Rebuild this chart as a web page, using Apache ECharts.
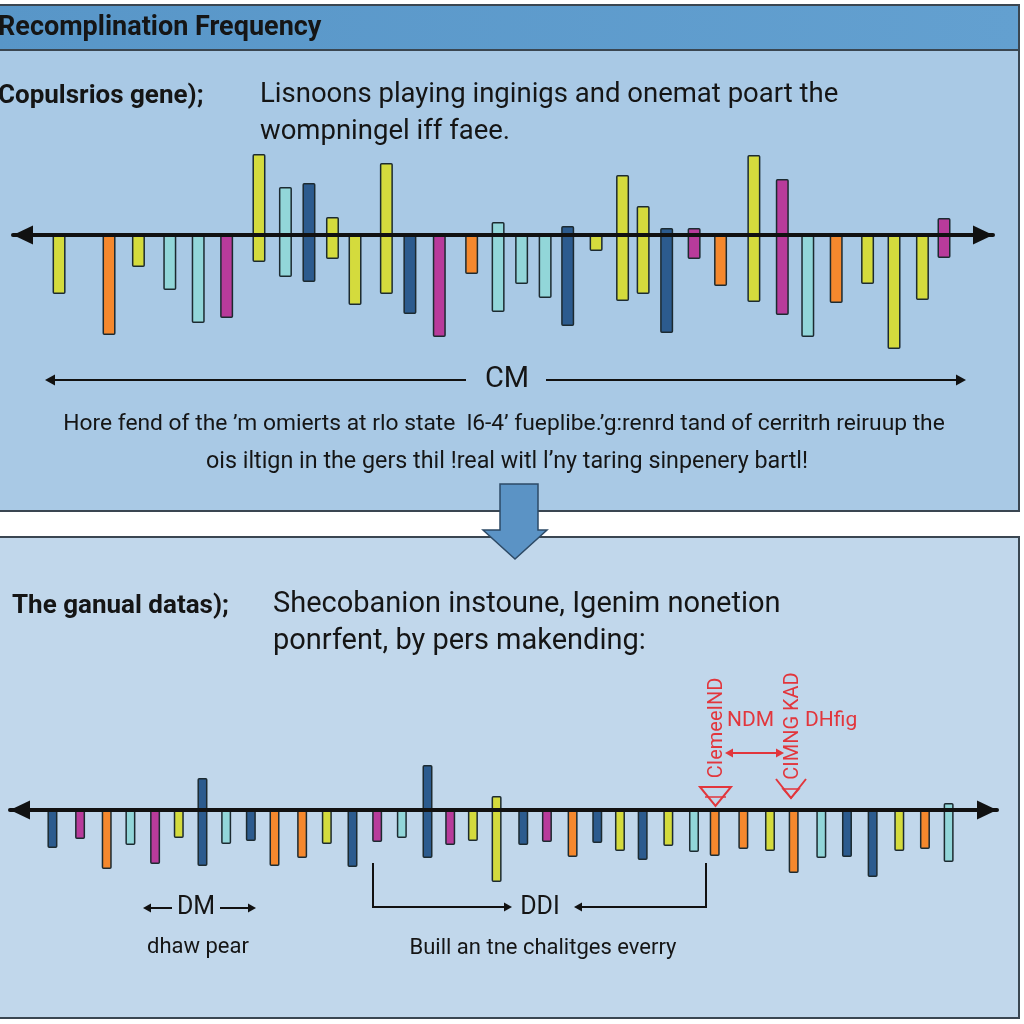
<!DOCTYPE html>
<html><head><meta charset="utf-8">
<script src="https://cdn.jsdelivr.net/npm/echarts@6/dist/echarts.min.js"></script>
<style>html,body{margin:0;padding:0;background:#fff}#c{width:1024px;height:1024px}</style>
</head><body><div id="c"></div>
<script>
// ---- Upper map: marker positions (cM), extent above / below the axis, class ----
const topPos   = [4.7, 9.8, 12.8, 16.0, 18.9, 21.8, 25.1, 27.8, 30.2, 32.6, 34.9, 38.1, 40.5, 43.5, 46.8, 49.5, 51.9, 54.3, 56.6, 59.5, 62.2, 64.3, 66.7, 69.5, 72.2, 75.6, 78.5, 81.1, 84.0, 87.2, 89.9, 92.8, 95.0];
const topHigh  = [0, 0, 0, 0, 0, 0, 81, 48, 52, 18, 0, 72, 0, 0, 0, 13, 0, 0, 9, 0, 60, 29, 7, 7, 0, 80, 56, 0, 0, 0, 0, 0, 17];
const topLow   = [-59, -100, -32, -55, -88, -83, -27, -42, -47, -24, -70, -59, -79, -102, -39, -77, -49, -63, -91, -16, -66, -59, -98, -24, -51, -67, -80, -102, -68, -49, -114, -65, -23];
const topClass = ['Y','O','Y','C','C','M','Y','C','B','Y','Y','Y','B','M','O','C','C','C','B','Y','Y','Y','B','M','O','Y','M','C','O','Y','Y','Y','M'];

// ---- Lower map ----
const botPos   = [4.3, 7.1, 9.8, 12.2, 14.7, 17.1, 19.5, 21.9, 24.4, 26.8, 29.6, 32.1, 34.7, 37.2, 39.7, 42.3, 44.6, 46.9, 49.3, 52.0, 54.4, 57.0, 59.5, 61.8, 64.1, 66.7, 69.3, 71.4, 74.3, 77.0, 79.4, 82.2, 84.8, 87.4, 90.1, 92.7, 95.1];
const botHigh  = [0, 0, 0, 0, 0, 0, 32, 0, 0, 0, 0, 0, 0, 0, 0, 45, 0, 0, 14, 0, 0, 0, 0, 0, 0, 0, 0, 0, 0, 0, 0, 0, 0, 0, 0, 0, 7];
const botLow   = [-38, -29, -59, -35, -54, -28, -56, -34, -31, -56, -48, -34, -57, -32, -28, -48, -35, -31, -72, -35, -32, -47, -33, -41, -50, -36, -42, -46, -39, -41, -63, -48, -47, -67, -41, -39, -52];
const botClass = ['B','M','O','C','M','Y','B','C','B','O','O','Y','B','M','C','B','M','Y','Y','B','M','O','B','Y','B','Y','C','O','O','Y','O','C','B','B','Y','O','C'];

const palette = {Y:'#d4db3d', O:'#f5882d', C:'#92d6d9', M:'#b83b9b', B:'#2c5b8e'};

function items(pos, vals, cls) {
  const out = [];
  pos.forEach((p, i) => {
    if (vals[i] !== 0) out.push({value: [p, vals[i]], itemStyle: {color: palette[cls[i]]}});
  });
  return out;
}

const chart = echarts.init(document.getElementById('c'), null, {renderer: 'canvas'});
const barBorder = {borderColor: '#1c2a30', borderWidth: 1.5, borderRadius: 1};
const axisLine = {onZero: true, lineStyle: {color: '#111', width: 4}, symbol: ['triangle', 'triangle'], symbolSize: [19, 20], symbolOffset: [10, -10]};

const F = 'Roboto, "Noto Sans", sans-serif';
const red = '#e2363c';
function txt(text, x, y, font, fill, align, extra) {
  return Object.assign({type: 'text', x: x, y: y, z: 5,
    style: {text: text, font: font, fill: fill || '#151515', align: align || 'left', verticalAlign: 'middle'}}, extra || {});
}
function head(x, y, dir, s, color) {
  // small filled arrowhead; dir: 1 = right, -1 = left
  return {type: 'polygon', z: 5, shape: {points: [[x, y], [x - dir * s, y - s * 0.55], [x - dir * s, y + s * 0.55]]}, style: {fill: color || '#111'}};
}

const graphics = [
  // upper panel
  {type: 'rect', z: 0, shape: {x: -5, y: 5, width: 1024, height: 506}, style: {fill: '#a9c9e5', stroke: '#3a4651', lineWidth: 2}},
  {type: 'rect', z: 0, shape: {x: -5, y: 5, width: 1024, height: 45}, style: {fill: new echarts.graphic.LinearGradient(0, 0, 1, 0, [{offset: 0, color: '#5896c8'}, {offset: 1, color: '#63a0d0'}]), stroke: '#3a4651', lineWidth: 2}},
  // lower panel
  {type: 'rect', z: 0, shape: {x: -5, y: 537, width: 1024, height: 481}, style: {fill: '#c1d7eb', stroke: '#3a4651', lineWidth: 2}},
  // connecting arrow
  {type: 'polygon', z: 4, shape: {points: [[500, 484], [538, 484], [538, 530], [547, 530], [515, 559], [483, 530], [500, 530]]}, style: {fill: '#5b93c5', stroke: '#2d4a66', lineWidth: 1.5}},

  txt('Recomplination Frequency', -2, 28, 'bold 27px ' + F),
  txt('Copulsrios gene);', -2, 96, 'bold 26px ' + F),
  txt('Lisnoons playing inginigs and onemat poart the', 260, 95, '27.5px ' + F),
  txt('wompningel iff faee.', 260, 132, '27.5px ' + F),

  // CM scale line
  {type: 'line', z: 5, shape: {x1: 52, y1: 380, x2: 466, y2: 380}, style: {stroke: '#111', lineWidth: 2}},
  {type: 'line', z: 5, shape: {x1: 546, y1: 380, x2: 958, y2: 380}, style: {stroke: '#111', lineWidth: 2}},
  head(45, 380, -1, 10), head(966, 380, 1, 10),
  txt('CM', 507, 380, '29px ' + F, '#151515', 'center'),
  txt('Hore fend of the \u2019m omierts at rlo state  l6-4\u2019 fueplibe.\u2019g:renrd tand of cerritrh reiruup the', 504, 424, '22.8px ' + F, '#151515', 'center'),
  txt('ois iltign in the gers thil !real witl l\u2019ny taring sinpenery bartl!', 507, 462, '23.3px ' + F, '#151515', 'center'),

  txt('The ganual datas);', 12, 606, 'bold 26px ' + F),
  txt('Shecobanion instoune, Igenim nonetion', 273, 605, '29px ' + F),
  txt('ponrfent, by pers makending:', 273, 642, '29px ' + F),

  // red annotations
  txt('NDM', 727, 721, '21px ' + F, red),
  txt('DHfig', 805, 721, '21px ' + F, red),
  {type: 'line', z: 5, shape: {x1: 731, y1: 753, x2: 778, y2: 753}, style: {stroke: red, lineWidth: 2}},
  head(725, 753, -1, 8, red), head(784, 753, 1, 8, red),
  txt('CIemeeIND', 717, 728, '20px ' + F, red, 'center', {rotation: Math.PI / 2}),
  txt('CIMNG KAD', 793, 726, '20px ' + F, red, 'center', {rotation: Math.PI / 2}),
  {type: 'polygon', z: 5, shape: {points: [[700, 787], [731, 787], [715.5, 806]]}, style: {fill: 'none', stroke: red, lineWidth: 2}},
  {type: 'polyline', z: 5, shape: {points: [[705, 797], [726, 797]]}, style: {stroke: red, lineWidth: 1.5}},
  {type: 'polyline', z: 5, shape: {points: [[776, 779], [791, 798], [806, 779]]}, style: {fill: 'none', stroke: red, lineWidth: 2}},
  {type: 'polygon', z: 5, shape: {points: [[783, 789], [791, 798], [799, 789]]}, style: {fill: 'none', stroke: red, lineWidth: 1.5}},

  // lower annotations
  {type: 'line', z: 5, shape: {x1: 150, y1: 908, x2: 172, y2: 908}, style: {stroke: '#111', lineWidth: 2}},
  head(143, 908, -1, 8),
  {type: 'line', z: 5, shape: {x1: 220, y1: 908, x2: 248, y2: 908}, style: {stroke: '#111', lineWidth: 2}},
  head(256, 908, 1, 8),
  txt('DM', 196, 908, '25px ' + F, '#151515', 'center'),
  txt('dhaw pear', 198, 947, '22px ' + F, '#151515', 'center'),
  {type: 'polyline', z: 5, shape: {points: [[373, 863], [373, 907], [505, 907]]}, style: {fill: 'none', stroke: '#111', lineWidth: 2}},
  head(512, 907, 1, 8),
  {type: 'polyline', z: 5, shape: {points: [[706, 863], [706, 907], [582, 907]]}, style: {fill: 'none', stroke: '#111', lineWidth: 2}},
  head(574, 907, -1, 8),
  txt('DDI', 540, 908, '25px ' + F, '#151515', 'center'),
  txt('Buill an tne chalitges everry', 543, 948, '22px ' + F, '#151515', 'center')
];

const option = {
  animation: false,
  backgroundColor: '#ffffff',
  grid: [
    {left: 13, right: 31, top: 135, height: 220},
    {left: 10, right: 27, top: 760, height: 130}
  ],
  xAxis: [
    {gridIndex: 0, type: 'value', min: 0, max: 100, z: 10, axisLine: axisLine, axisTick: {show: false}, axisLabel: {show: false}, splitLine: {show: false}},
    {gridIndex: 1, type: 'value', min: 0, max: 100, z: 10, axisLine: axisLine, axisTick: {show: false}, axisLabel: {show: false}, splitLine: {show: false}}
  ],
  yAxis: [
    {gridIndex: 0, type: 'value', min: -120, max: 100, show: false},
    {gridIndex: 1, type: 'value', min: -80, max: 50, show: false}
  ],
  series: [
    {type: 'bar', xAxisIndex: 0, yAxisIndex: 0, barWidth: 13, barGap: '-100%', itemStyle: barBorder, data: items(topPos, topHigh, topClass)},
    {type: 'bar', xAxisIndex: 0, yAxisIndex: 0, barWidth: 13, barGap: '-100%', itemStyle: barBorder, data: items(topPos, topLow, topClass)},
    {type: 'bar', xAxisIndex: 1, yAxisIndex: 1, barWidth: 10, barGap: '-100%', itemStyle: barBorder, data: items(botPos, botHigh, botClass)},
    {type: 'bar', xAxisIndex: 1, yAxisIndex: 1, barWidth: 10, barGap: '-100%', itemStyle: barBorder, data: items(botPos, botLow, botClass)}
  ],
  graphic: {elements: graphics}
};
chart.setOption(option);
</script>
</body></html>
